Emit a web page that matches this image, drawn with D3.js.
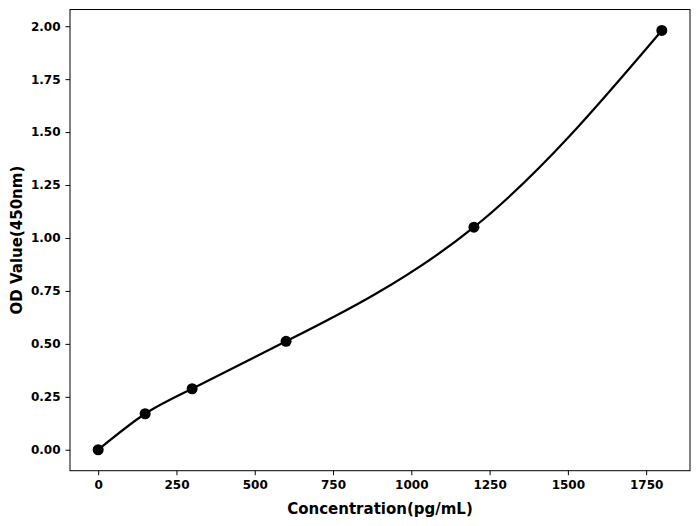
<!DOCTYPE html>
<html><head><meta charset="utf-8">
<script src="https://cdn.jsdelivr.net/npm/d3@7"></script>
<style>
body{margin:0;background:#fff;}
text{font-family:"DejaVu Sans",sans-serif;font-weight:bold;}
</style></head>
<body><svg id="c" width="700" height="526"></svg>
<script>
const concentrations = [0, 150, 300, 600, 1200, 1800];
const odValues = [0.0, 0.17, 0.288, 0.512, 1.051, 1.98];
const xTicks = [0, 250, 500, 750, 1000, 1250, 1500, 1750];
const yTicks = [0, 0.25, 0.5, 0.75, 1.0, 1.25, 1.5, 1.75, 2.0];

const svg = d3.select("#c");
const L = 70, R = 690, T = 9.5, B = 470.7;
const x = d3.scaleLinear().domain([-90, 1890]).range([L, R]);
const y = d3.scaleLinear().domain([-0.099, 2.079]).range([B, T]);

const xa = svg.append("g").attr("transform", `translate(0,${B})`)
  .call(d3.axisBottom(x).tickValues(xTicks).tickSize(4.5).tickPadding(5).tickFormat(d3.format("d")));
const ya = svg.append("g").attr("transform", `translate(${L},0)`)
  .call(d3.axisLeft(y).tickValues(yTicks).tickSize(4.5).tickPadding(5).tickFormat(d3.format(".2f")));
[xa, ya].forEach(a => {
  a.select(".domain").remove();
  a.selectAll("line").attr("stroke", "#000").attr("stroke-width", 1);
  a.selectAll("text").attr("fill", "#000").style("font-size", "12px").style("font-weight", "bold");
});
svg.append("rect").attr("x", L).attr("y", T).attr("width", R - L).attr("height", B - T)
  .attr("fill", "none").attr("stroke", "#000").attr("stroke-width", 1);

const pts = concentrations.map((c, i) => [c, odValues[i]]);
const line = d3.line().x(d => x(d[0])).y(d => y(d[1])).curve(d3.curveNatural);
svg.append("path").datum(pts).attr("d", line).attr("fill", "none")
  .attr("stroke", "#000").attr("stroke-width", 2.2);
svg.selectAll("circle").data(pts).enter().append("circle")
  .attr("cx", d => x(d[0])).attr("cy", d => y(d[1])).attr("r", 5.5).attr("fill", "#000");

svg.append("text").attr("x", (L + R) / 2).attr("y", 514).attr("text-anchor", "middle")
  .style("font-size", "15px").text("Concentration(pg/mL)");
svg.append("text").attr("transform", `translate(22,${(T + B) / 2}) rotate(-90)`)
  .attr("text-anchor", "middle").style("font-size", "15px").text("OD Value(450nm)");
</script></body></html>
